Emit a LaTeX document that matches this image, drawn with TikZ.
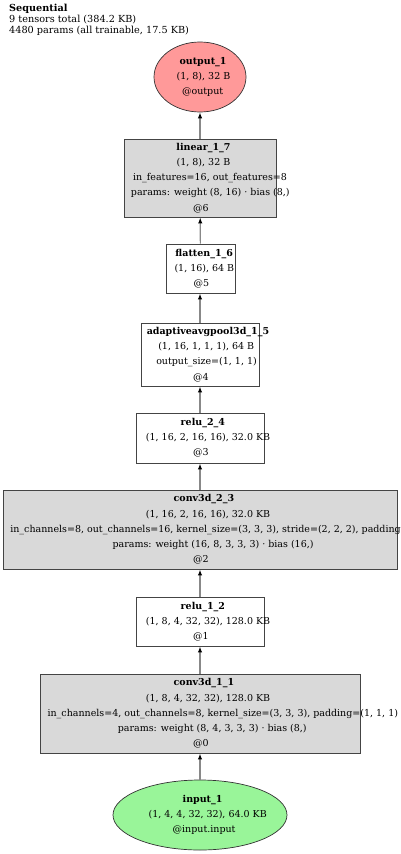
\documentclass[tikz,border=0pt]{standalone}
\usepackage{fontspec}
\setmainfont{DejaVu Serif}
\usetikzlibrary{arrows.meta,shapes.geometric}
\newsavebox\skbox
\newlength\sklen
\newcommand\sk[1]{\sbox\skbox{#1}\setlength\sklen{\wd\skbox}\makebox[0.87\sklen][l]{\usebox\skbox}}
\definecolor{boxgray}{HTML}{D9D9D9}
\definecolor{outred}{HTML}{FF9999}
\definecolor{ingreen}{HTML}{99F599}
\definecolor{edgegray}{HTML}{888888}
\definecolor{bordergray}{HTML}{444444}
\tikzset{
  layer/.style={draw=bordergray, line width=0.9pt, rectangle, inner sep=0pt, align=center,
    font=\fontsize{9.5}{15.2}\selectfont},
  grayfill/.style={fill=boxgray},
  oval/.style={draw=black!80, line width=0.7pt, ellipse, inner sep=0pt, align=center,
    font=\fontsize{9.5}{15.2}\selectfont},
  conn/.style={draw=edgegray, line width=1.2pt, -{Latex[color=black,length=6pt,width=4.5pt]}},
}
\begin{document}
\begin{tikzpicture}[x=1pt,y=-1pt]
\useasboundingbox[fill=white] (0,0) rectangle (400,854);
\node[anchor=north west, align=left, inner sep=0pt, font=\fontsize{9.7}{11}\selectfont] (title) at (9,4)
  {\textbf{Sequential}\\9 tensors total (384.2 KB)\\4480 params (all trainable, 17.5 KB)};

\node[oval, fill=outred, minimum width=92pt, minimum height=70pt] (out) at (200,77)
  {\sk{\textbf{output\_1}}\\\sk{(1, 8), 32 B}\\\sk{@output}};
\node[layer, grayfill, minimum width=152pt, minimum height=78pt] (lin) at (200,178)
  {\sk{\textbf{linear\_1\_7}}\\\sk{(1, 8), 32 B}\\\sk{in\_features=16, out\_features=8}\\\sk{params: weight (8, 16) · bias (8,)}\\\sk{@6}};
\node[layer, fill=white, minimum width=69pt, minimum height=49pt] (flat) at (200.5,268.5)
  {\sk{\textbf{flatten\_1\_6}}\\\sk{(1, 16), 64 B}\\\sk{@5}};
\node[layer, fill=white, minimum width=118pt, minimum height=63pt] (pool) at (200,354.5)
  {\sk{\textbf{adaptiveavgpool3d\_1\_5}}\\\sk{(1, 16, 1, 1, 1), 64 B}\\\sk{output\_size=(1, 1, 1)}\\\sk{@4}};
\node[layer, fill=white, minimum width=128pt, minimum height=50pt] (relutwo) at (200,438)
  {\sk{\textbf{relu\_2\_4}}\\\sk{(1, 16, 2, 16, 16), 32.0 KB}\\\sk{@3}};
\node[layer, grayfill, minimum width=394pt, minimum height=79pt] (convtwo) at (200,529.5)
  {\sk{\textbf{conv3d\_2\_3}}\\\sk{(1, 16, 2, 16, 16), 32.0 KB}\\\sk{in\_channels=8, out\_channels=16, kernel\_size=(3, 3, 3), stride=(2, 2, 2), padding=(1, 1, 1)}\\\sk{params: weight (16, 8, 3, 3, 3) · bias (16,)}\\\sk{@2}};
\node[layer, fill=white, minimum width=128pt, minimum height=49pt] (reluone) at (200,621.5)
  {\sk{\textbf{relu\_1\_2}}\\\sk{(1, 8, 4, 32, 32), 128.0 KB}\\\sk{@1}};
\node[layer, grayfill, minimum width=320pt, minimum height=79pt] (convone) at (200,713.5)
  {\sk{\textbf{conv3d\_1\_1}}\\\sk{(1, 8, 4, 32, 32), 128.0 KB}\\\sk{in\_channels=4, out\_channels=8, kernel\_size=(3, 3, 3), padding=(1, 1, 1)}\\\sk{params: weight (8, 4, 3, 3, 3) · bias (8,)}\\\sk{@0}};
\node[oval, fill=ingreen, minimum width=174pt, minimum height=70pt] (inp) at (200,815)
  {\sk{\textbf{input\_1}}\\\sk{(1, 4, 4, 32, 32), 64.0 KB}\\\sk{@input.input}};

\draw[conn] (inp) -- (convone);
\draw[conn] (convone) -- (reluone);
\draw[conn] (reluone) -- (convtwo);
\draw[conn] (convtwo) -- (relutwo);
\draw[conn] (relutwo) -- (pool);
\draw[conn] (pool) -- (flat.south -| pool.north);
\draw[conn] (flat) -- (lin);
\draw[conn] (lin) -- (out);
\end{tikzpicture}
\end{document}
